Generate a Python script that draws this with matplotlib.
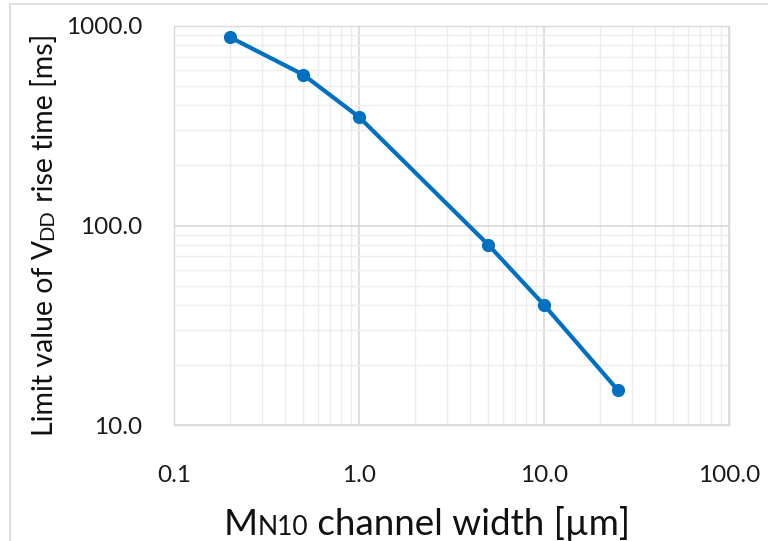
import matplotlib
matplotlib.use("Agg")
import matplotlib.pyplot as plt
from matplotlib.lines import Line2D
from matplotlib.ticker import LogLocator, FixedLocator, NullFormatter

plt.rcParams['font.family'] = ['Lato', 'DejaVu Sans']

width_um = [0.2, 0.5, 1.0, 5.0, 10.0, 25.0]
rise_ms = [880, 570, 350, 80, 40, 15]
xticks = [0.1, 1.0, 10.0, 100.0]
xticklabels = ["0.1", "1.0", "10.0", "100.0"]
yticks = [10.0, 100.0, 1000.0]
yticklabels = ["10.0", "100.0", "1000.0"]

W, H = 768, 541
fig = plt.figure(figsize=(W / 100, H / 100), dpi=100)
L, R, T, B = 174, 729, 26, 425
ax = fig.add_axes([L / W, 1 - B / H, (R - L) / W, (B - T) / H])
ax.set_xscale('log')
ax.set_yscale('log')
ax.set_xlim(0.1, 100)
ax.set_ylim(10, 1000)

ax.xaxis.set_major_locator(FixedLocator(xticks))
ax.yaxis.set_major_locator(FixedLocator(yticks))
ax.xaxis.set_minor_locator(LogLocator(base=10, subs=range(2, 10)))
ax.yaxis.set_minor_locator(LogLocator(base=10, subs=range(2, 10)))
ax.xaxis.set_minor_formatter(NullFormatter())
ax.yaxis.set_minor_formatter(NullFormatter())
ax.set_xticklabels(xticklabels)
ax.set_yticklabels(yticklabels)
ax.tick_params(which='both', length=0)
ax.tick_params(axis='x', labelsize=17.5, pad=29, colors='#1a1a1a')
ax.tick_params(axis='y', labelsize=17.5, pad=23, colors='#1a1a1a')
ax.grid(which='major', color='#d4d4d4', linewidth=1.1)
ax.grid(which='minor', color='#ededed', linewidth=1.0)
ax.set_axisbelow(True)
for s in ax.spines.values():
    s.set_color('#d9d9d9')
    s.set_linewidth(1.0)

ax.plot(width_um, rise_ms, color='#0070C0', linewidth=3.0, marker='o',
        markersize=8.5, markerfacecolor='#0070C0', markeredgecolor='#0070C0',
        clip_on=False, zorder=5)

# figure border lines (top, left)
fig.add_artist(Line2D([10 / W, 1], [1 - 4 / H, 1 - 4 / H], color='#d9d9d9', linewidth=1.2, transform=fig.transFigure))
fig.add_artist(Line2D([10 / W, 10 / W], [0, 1 - 4 / H], color='#d9d9d9', linewidth=1.2, transform=fig.transFigure))

fig.canvas.draw()
renderer = fig.canvas.get_renderer()

def px(xp, yp):
    return fig.transFigure.inverted().transform((xp, H - yp))

# x label: pieces with baseline alignment
big, small = 26.5, 19
pieces = [("M", big), ("N10", small), (" channel width [µm]", big)]
arts = []
for txt, sz in pieces:
    t = fig.text(0, 0, txt, fontsize=sz, color='#111111', va='baseline', ha='left')
    arts.append(t)
fig.canvas.draw()
widths = [a.get_window_extent(renderer).width for a in arts]
total = sum(widths)
cx, base = 427, 535
x0 = cx - total / 2
for a, w in zip(arts, widths):
    a.set_position(px(x0, base))
    x0 += w

# y label rotated pieces
ybig, ysmall = 20.5, 14.5
ypieces = [("Limit value of V", ybig), ("DD", ysmall), (" rise time [ms]", ybig)]
yarts = []
for txt, sz in ypieces:
    t = fig.text(0, 0, txt, fontsize=sz, color='#111111', va='baseline', ha='left', rotation=90,
                 rotation_mode='anchor')
    yarts.append(t)
fig.canvas.draw()
heights = [a.get_window_extent(renderer).height for a in yarts]
totalh = sum(heights)
cy, xbase = 235, 53
y0 = cy + totalh / 2
for a, h in zip(yarts, heights):
    a.set_position(px(xbase, y0))
    y0 -= h

fig.savefig("out.png", dpi=100)
